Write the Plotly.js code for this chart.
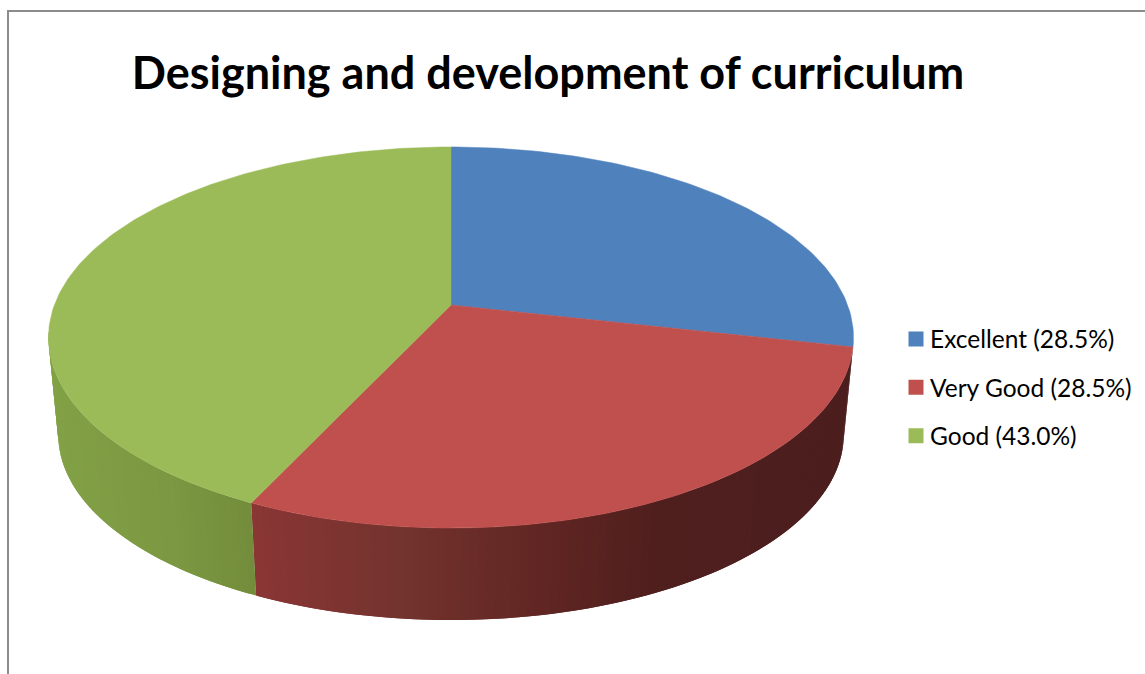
<!DOCTYPE html>
<html>
<head>
<meta charset="utf-8">
<script src="https://cdn.plot.ly/plotly-3.0.1.min.js"></script>
<style>
html,body{margin:0;padding:0;background:#fff;overflow:hidden}
.legend .legendpoints{transform:translate(6px,0)}
</style>
</head>
<body>
<div id="chart" style="width:1145px;height:674px"></div>
<script>
const chartTitle = "Designing and development of curriculum";
const categories = ["Excellent", "Very Good", "Good"];
const values = [28.5, 28.5, 43.0];
const topColors = ["#4F81BD", "#C0504D", "#9BBB59"];

// Wall shading by screen x, per slice (null: the wall is hidden)
const wallShades = [
  null,
  [[250,[139,54,53]],[400,[116,51,46]],[560,[95,37,34]],[660,[79,31,30]],[860,[76,30,30]]],
  [[50,[130,161,70]],[170,[124,152,66]],[255,[115,141,60]]]
];

// Projection of the tilted disc onto the page
const proj = {cx:451, k:0.1706, top:{a:396.6, b:185, y0:305}, bottom:{a:387, b:180, y0:403}};
function project(deg, rim){
  const t = deg*Math.PI/180, X = Math.sin(t), Y = Math.cos(t), w = 1 + proj.k*Y;
  return [proj.cx + rim.a*X/w, rim.y0 - rim.b*Y/w];
}
function shade(stops, x){
  if (x <= stops[0][0]) return stops[0][1];
  for (let i = 1; i < stops.length; i++){
    if (x <= stops[i][0]){
      const f = (x-stops[i-1][0])/(stops[i][0]-stops[i-1][0]);
      return stops[i-1][1].map((c,j)=>c+(stops[i][1][j]-c)*f);
    }
  }
  return stops[stops.length-1][1];
}
const css = c => "rgb("+c.map(Math.round).join(",")+")";

const total = values.reduce((a,b)=>a+b,0);
const traces = [];
const faces = [];
const WALL_END = 262;
const STEP = 1;
let start = 0;
values.forEach((v,i)=>{
  const end = start + v/total*360;
  // side wall: shaded strips, each overlapping the next so no seams show
  if (wallShades[i]){
    const stripEnd = Math.min(end, WALL_END);
    for (let d = start; d < stripEnd; d += STEP){
      const e = Math.min(d+STEP*2, stripEnd);
      const p = [project(d,proj.top), project(e,proj.top), project(e,proj.bottom), project(d,proj.bottom)];
      const col = css(shade(wallShades[i], p[0][0]));
      traces.push({type:"scatter", mode:"lines", x:p.map(q=>q[0]).concat(p[0][0]), y:p.map(q=>q[1]).concat(p[0][1]),
        fill:"toself", fillcolor:col, line:{color:col,width:0}, hoverinfo:"skip", showlegend:false});
    }
  }
  // top face
  const xs=[proj.cx], ys=[proj.top.y0];
  for (let d = start; d < end; d += 1){ const q = project(d,proj.top); xs.push(q[0]); ys.push(q[1]); }
  const q = project(end,proj.top); xs.push(q[0],proj.cx); ys.push(q[1],proj.top.y0);
  faces.push({type:"scatter", mode:"lines", x:xs, y:ys, fill:"toself", fillcolor:topColors[i],
    line:{color:topColors[i],width:0.5}, name:categories[i], text:categories[i]+": "+v.toFixed(1)+"%", hoverinfo:"text", showlegend:false});
  start = end;
});
traces.push(...faces);
categories.forEach((c,i)=>{
  traces.push({type:"scatter", mode:"markers", x:[null], y:[null], name:c+" ("+values[i].toFixed(1)+"%)",
    legendgroup:c, marker:{symbol:"square", size:15, color:topColors[i]}, hoverinfo:"skip"});
});

const layout = {
  width:1145, height:674, margin:{l:0,r:0,t:0,b:0},
  paper_bgcolor:"#fff", plot_bgcolor:"#fff",
  font:{family:"Lato, Carlito, sans-serif", color:"#000"},
  title:{text:"<b>"+chartTitle+"</b>", font:{family:"Lato, sans-serif", size:45, color:"#000"},
    x:548/1145, xanchor:"center", xref:"paper", y:1-73/674, yanchor:"middle", yref:"paper"},
  xaxis:{range:[0,1145], visible:false, fixedrange:true},
  yaxis:{range:[674,0], visible:false, fixedrange:true},
  legend:{x:890/1145, xanchor:"left", y:1-316.5/674, yanchor:"top", font:{size:24.5,color:"#000"},
    itemwidth:30, tracegroupgap:13.5, bgcolor:"rgba(0,0,0,0)", traceorder:"grouped"},
  shapes:[{type:"path", xref:"x", yref:"y", path:"M8,674 L8,11 L1145,11", line:{color:"#8c8c8c",width:2}, layer:"below"}],
  showlegend:true
};
Plotly.newPlot("chart", traces, layout, {displayModeBar:false});
</script>
</body>
</html>
